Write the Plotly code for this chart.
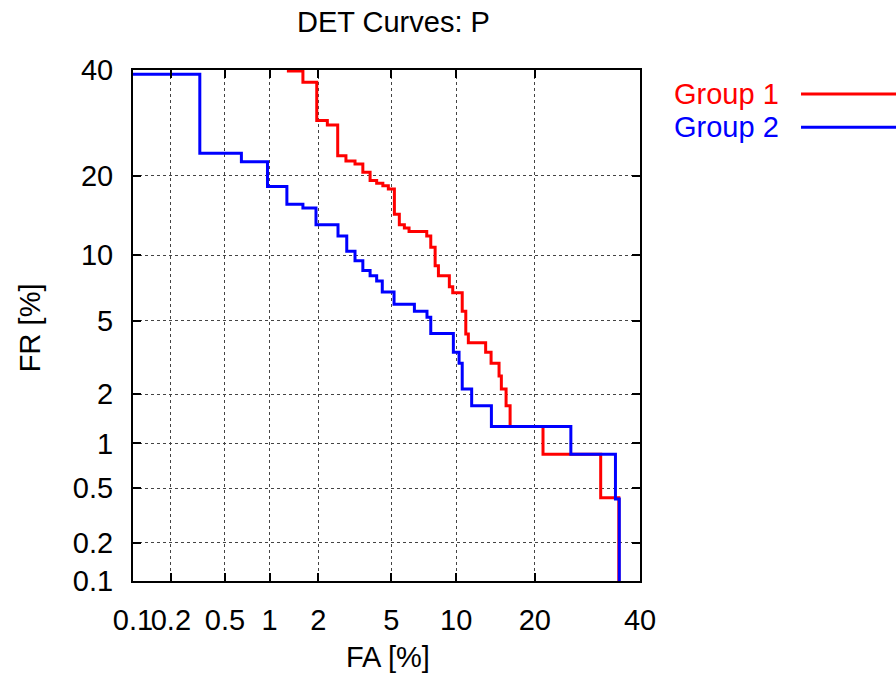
import plotly.graph_objects as go
from statistics import NormalDist

# ---- data (percent) ----
tick_values = [0.1, 0.2, 0.5, 1, 2, 5, 10, 20, 40]
tick_labels = ["0.1", "0.2", "0.5", "1", "2", "5", "10", "20", "40"]

group1_fa = [1.29, 1.62, 1.96, 2.26, 2.59, 2.88, 3.23, 3.56, 3.89, 4.21,
             4.53, 4.83, 5.18, 5.48, 5.80, 6.11, 7.40, 7.72, 8.08, 8.36,
             9.34, 9.66, 10.6, 10.97, 11.24, 13.2, 13.86, 14.87, 15.17, 15.8,
             16.35, 21.3, 31.8, 35.5]
group1_fr = [39.8, 37.4, 29.7, 28.8, 23.3, 22.4, 21.9, 20.6, 19.3, 18.9,
             18.5, 18.05, 14.6, 13.3, 12.9, 12.5, 12.0, 10.8, 9.0, 8.15,
             7.27, 6.82, 5.56, 4.28, 3.86, 3.44, 3.0, 2.55, 2.15, 1.71,
             1.28, 0.85, 0.43, 0]

group2_fa = [0, 0.33, 0.65, 0.97, 1.29, 1.62, 1.94, 2.60, 2.91, 3.23,
             3.56, 3.89, 4.21, 4.50, 5.16, 6.48, 7.42, 7.72, 9.72, 10.28,
             10.6, 11.6, 13.9, 26.1, 34.8, 35.6]
group2_fr = [39.1, 23.7, 22.3, 18.4, 15.9, 15.4, 13.3, 12.0, 10.4, 9.46,
             8.58, 8.15, 7.72, 6.87, 6.01, 5.56, 5.2, 4.3, 3.44, 3.0,
             2.15, 1.71, 1.28, 0.85, 0.42, 0]

series_names = ["Group 1", "Group 2"]
series_colors = ["#ff0000", "#0000ff"]

nd = NormalDist()


def probit(pct):
    # values of 0 map below the visible range and get clipped by the axes
    p = min(max(pct / 100.0, 1e-5), 1 - 1e-5)
    return nd.inv_cdf(p)


fig = go.Figure()
for fa, fr, name, color in [(group1_fa, group1_fr, series_names[0], series_colors[0]),
                            (group2_fa, group2_fr, series_names[1], series_colors[1])]:
    fig.add_trace(go.Scatter(
        x=[probit(v) for v in fa], y=[probit(v) for v in fr],
        mode="lines", line=dict(color=color, width=3, shape="hv"),
        name=name, showlegend=False, hoverinfo="skip"))

FONT = "Liberation Sans, Arial, sans-serif"
FS = 29
rng = [probit(tick_values[0]), probit(tick_values[-1])]
axis_common = dict(
    range=rng, tickvals=[probit(v) for v in tick_values], ticktext=tick_labels,
    ticks="inside", ticklen=8, tickwidth=1.5, tickcolor="black",
    mirror="allticks", showline=True, linecolor="black", linewidth=2,
    showgrid=True, gridcolor="#444444", gridwidth=1, griddash="dot",
    zeroline=False, tickfont=dict(family=FONT, size=FS, color="black"),
    ticklabelstandoff=12, tickangle=0, automargin=False,
)
fig.update_xaxes(**axis_common)
fig.update_yaxes(**axis_common)

annotations = [
    dict(text="DET Curves: P", x=0.513, y=1.094, xref="paper", yref="paper",
         xanchor="center", yanchor="middle", showarrow=False,
         font=dict(family=FONT, size=FS, color="black")),
    dict(text="FA [%]", x=0.502, y=-0.149, xref="paper", yref="paper",
         xanchor="center", yanchor="middle", showarrow=False,
         font=dict(family=FONT, size=FS, color="black")),
    dict(text="FR [%]", x=-0.203, y=0.495, xref="paper", yref="paper",
         xanchor="center", yanchor="middle", showarrow=False, textangle=-90,
         font=dict(family=FONT, size=FS, color="black")),
]
shapes = []
legend_y = [0.953, 0.888]
for name, color, ly in zip(series_names, series_colors, legend_y):
    annotations.append(dict(text=name, x=1.278, y=ly, xref="paper", yref="paper",
                            xanchor="right", yanchor="middle", showarrow=False,
                            font=dict(family=FONT, size=FS, color=color)))
    shapes.append(dict(type="line", xref="paper", yref="paper",
                       x0=1.3176, x1=1.51, y0=ly, y1=ly,
                       line=dict(color=color, width=3)))

fig.update_layout(
    width=896, height=674,
    margin=dict(l=133, r=256, t=70, b=93, autoexpand=False),
    paper_bgcolor="white", plot_bgcolor="white",
    font=dict(family=FONT, size=FS, color="black"),
    annotations=annotations, shapes=shapes,
)

fig.write_html(
    "out.html",
    config={"displayModeBar": False},
    post_script="document.body.style.margin='0';document.body.style.overflow='hidden';",
)
